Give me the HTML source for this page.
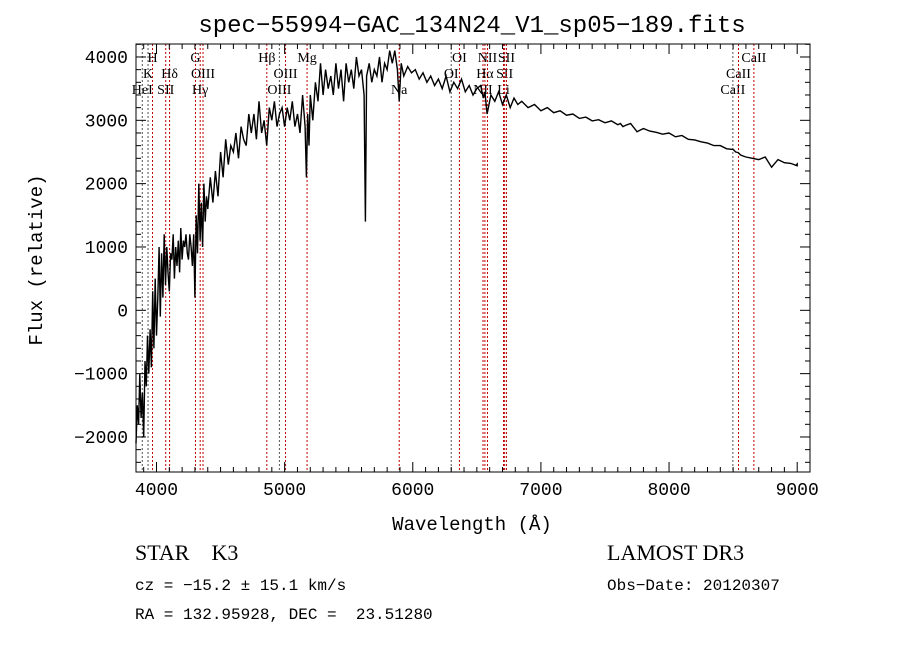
<!DOCTYPE html>
<html><head><meta charset="utf-8"><style>
body{margin:0;background:#fff;}
svg text{font-family:"Liberation Serif","DejaVu Serif",serif;fill:#000;white-space:pre;}
</style></head><body>
<svg id="chart" width="900" height="649" viewBox="0 0 900 649">
<rect width="900" height="649" fill="#fff"/>
<text x="472" y="32" font-size="24" text-anchor="middle" style="font-family:'Liberation Mono',monospace">spec−55994−GAC_134N24_V1_sp05−189.fits</text>
<text x="472" y="530" font-size="19" text-anchor="middle" style="font-family:'Liberation Mono',monospace">Wavelength (Å)</text>
<text transform="translate(42,260) rotate(-90)" font-size="19" text-anchor="middle" style="font-family:'Liberation Mono',monospace">Flux (relative)</text>
<g id="marks"></g>
<text x="135" y="560" font-size="22" xml:space="preserve">STAR    K3</text>
<text x="607" y="560" font-size="22">LAMOST DR3</text>
<text x="135" y="590" font-size="16" style="font-family:'Liberation Mono',monospace">cz = −15.2 ± 15.1 km/s</text>
<text x="607" y="590" font-size="16" style="font-family:'Liberation Mono',monospace">Obs−Date: 20120307</text>
<text x="135" y="619" font-size="16" xml:space="preserve" style="font-family:'Liberation Mono',monospace">RA = 132.95928, DEC =  23.51280</text>
</svg>
<script>
const wavelengths=[3840,3850,3860,3870,3880,3890,3900,3910,3920,3930,3940,3950,3960,3970,3980,3990,4000,4010,4020,4030,4040,4050,4060,4070,4080,4090,4100,4110,4120,4130,4140,4150,4160,4170,4180,4190,4200,4210,4220,4230,4240,4250,4260,4270,4280,4290,4300,4310,4320,4330,4340,4350,4360,4370,4380,4390,4400,4420,4440,4460,4480,4500,4520,4540,4560,4580,4600,4620,4640,4660,4680,4700,4720,4740,4760,4780,4800,4820,4840,4860,4880,4900,4920,4940,4960,4980,5000,5020,5040,5060,5080,5100,5120,5140,5160,5170,5180,5190,5200,5220,5240,5260,5280,5300,5320,5340,5360,5380,5400,5420,5440,5460,5480,5500,5520,5540,5560,5580,5600,5620,5630,5640,5660,5680,5700,5720,5740,5760,5780,5800,5820,5840,5860,5880,5894,5910,5930,5960,5990,6020,6050,6080,6110,6140,6170,6200,6230,6260,6290,6320,6350,6380,6410,6440,6470,6500,6530,6550,6563,6580,6610,6640,6670,6700,6730,6760,6790,6820,6850,6900,6950,7000,7050,7100,7150,7200,7250,7300,7350,7400,7450,7500,7550,7600,7620,7640,7660,7700,7750,7800,7850,7900,7950,8000,8050,8100,8150,8200,8250,8300,8350,8400,8450,8500,8520,8540,8560,8600,8650,8700,8750,8800,8850,8900,8950,8990,9000,9002];
const fluxes=[-2100,-1500,-1800,-1000,-1700,-1300,-2000,-800,-1200,-400,-1000,-300,-900,300,-600,500,-400,200,1000,-100,900,200,1200,400,1000,600,300,900,800,1200,500,1000,700,1100,600,1300,800,1100,1000,1200,900,800,1200,1000,700,1200,200,1500,900,2000,1100,1700,1000,2000,1400,1800,1600,2100,1700,2200,1800,2500,2100,2700,2300,2600,2500,2800,2400,2900,2700,2600,3100,2800,3100,2700,3300,2800,3000,2600,3200,3000,3300,2900,3100,3200,2900,3200,3000,3300,2900,3100,2800,3400,2900,2100,3100,2600,3400,3000,3600,3300,3900,3400,3800,3500,3700,3400,3900,3500,3800,3300,3900,3600,3800,3500,4000,3700,3800,3400,1400,3700,3900,3600,3800,3700,4000,3600,3900,3800,4100,3900,4100,3800,3300,3900,3700,3850,3750,3800,3650,3750,3600,3700,3550,3650,3500,3700,3450,3600,3500,3650,3450,3550,3400,3500,3550,3350,3450,3100,3400,3300,3450,3250,3400,3200,3350,3250,3300,3200,3250,3150,3200,3120,3150,3080,3100,3030,3050,2990,3010,2960,2990,2930,2950,2900,2920,2950,2820,2870,2830,2810,2780,2800,2740,2760,2700,2690,2660,2640,2600,2600,2550,2540,2500,2490,2450,2420,2400,2380,2420,2260,2380,2330,2320,2290,2310,2270,2280,2250,2260,2230,2240,1800,300];
const lineWl=[3889,3934,3969,4072,4102,4304,4341,4363,4861,4959,5007,5175,5894,6300,6364,6548,6563,6583,6708,6717,6731,8498,8542,8662];
const lineNames=["HeI","K","H","SII","Hδ","G","Hγ","OIII","Hβ","OIII","OIII","Mg","Na","OI","OI","NII","Hα","NII","Li","SII","SII","CaII","CaII","CaII"];
const lineRows=[2,1,0,2,1,0,2,1,0,2,1,0,2,1,0,2,1,0,2,1,0,2,1,0];
const lineGray=[1,1,0,0,0,0,0,0,0,1,0,0,0,1,0,0,0,0,0,0,0,1,0,0];
const xTicks=[4000,5000,6000,7000,8000,9000];
const yTicks=[-2000,-1000,0,1000,2000,3000,4000];
const X0=136,X1=810,Y0=44,Y1=472,WMIN=3840,WMAX=9100,FMIN=-2553,FMAX=4205;
const sx=w=>X0+(w-WMIN)/(WMAX-WMIN)*(X1-X0);
const sy=f=>Y1-(f-FMIN)/(FMAX-FMIN)*(Y1-Y0);
const NS="http://www.w3.org/2000/svg";
const g=document.getElementById('marks');
function mk(t,a){const e=document.createElementNS(NS,t);for(const k in a)e.setAttribute(k,a[k]);g.appendChild(e);return e;}
lineWl.forEach((w,i)=>{
 const l=mk('line',{x1:sx(w),x2:sx(w),y1:Y0,y2:Y1,stroke:lineGray[i]?'#555':'#c00000','stroke-width':1,'stroke-dasharray':'2,2'});
 
 
 const t=mk('text',{x:sx(w),y:62+lineRows[i]*16,'font-size':14,'text-anchor':'middle'});
 t.textContent=lineNames[i];
 
 
});
const pts=wavelengths.map((w,i)=>sx(Math.min(w,9000)).toFixed(1)+','+sy(fluxes[i]).toFixed(1)).join(' ');
const sp=mk('polyline',{points:pts,fill:'none',stroke:'#000','stroke-width':1.4});


const fr=mk('rect',{x:X0,y:Y0,width:X1-X0,height:Y1-Y0,fill:'none',stroke:'#000','stroke-width':1});


for(let w=3900;w<=9100;w+=100){const L=w%1000===0?10:5;
 mk('line',{x1:sx(w),x2:sx(w),y1:Y1,y2:Y1-L,stroke:'#000'});mk('line',{x1:sx(w),x2:sx(w),y1:Y0,y2:Y0+L,stroke:'#000'});}
xTicks.forEach(v=>{const t=mk('text',{x:sx(v),y:Y1+23,'font-size':18,'text-anchor':'middle',style:"font-family:'Liberation Mono',monospace"});t.textContent=v;
 
 });
for(let f=-2400;f<=4200;f+=200){const L=f%1000===0?10:5;
 mk('line',{x1:X0,x2:X0+L,y1:sy(f),y2:sy(f),stroke:'#000'});mk('line',{x1:X1,x2:X1-L,y1:sy(f),y2:sy(f),stroke:'#000'});}
yTicks.forEach(v=>{const t=mk('text',{x:X0-8,y:sy(v)+6,'font-size':18,'text-anchor':'end',style:"font-family:'Liberation Mono',monospace"});t.textContent=v<0?'−'+Math.abs(v):v;
 
 });
</script>
</body></html>
